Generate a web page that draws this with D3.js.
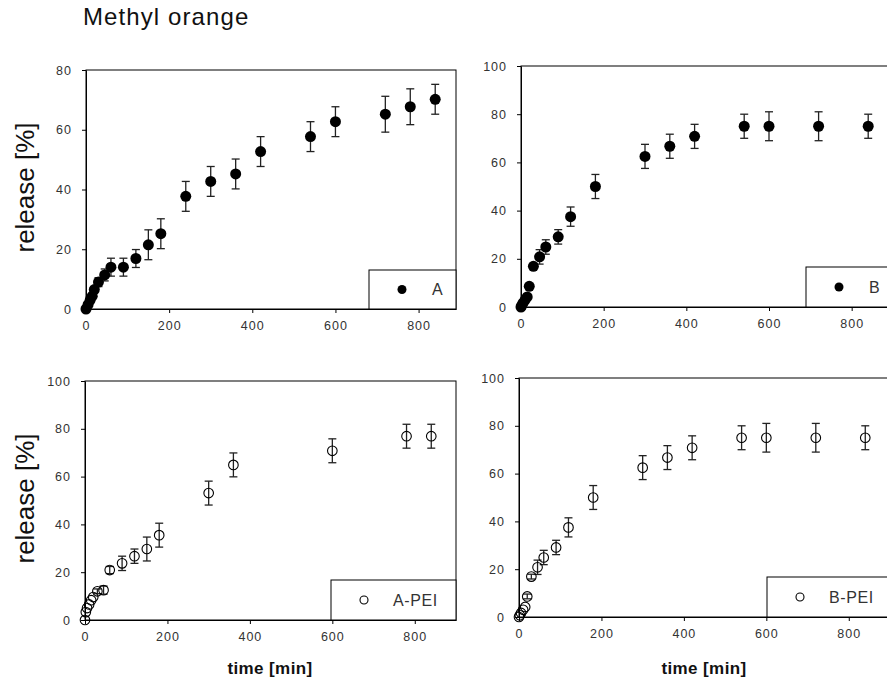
<!DOCTYPE html>
<html lang="en">
<head>
<meta charset="UTF-8">
<title>Methyl orange release</title>
<style>
  body { margin: 0; background: #fff; }
  svg text { font-family: "Liberation Sans", Arial, sans-serif; }
</style>
</head>
<body>
<div id="chart"></div>
<script src="https://d3js.org/d3.v7.min.js"></script>
<script>
// time points [min], release [%] and error (+/-)
var timeA    = [0, 5, 10, 15, 20, 30, 45, 60, 90, 120, 150, 180, 240, 300, 360, 420, 540, 600, 720, 780, 840];
var releaseA = [0, 1.5, 3, 4.3, 6.5, 9, 11.4, 14, 14, 16.9, 21.5, 25.2, 37.7, 42.7, 45.2, 52.7, 57.7, 62.7, 65.2, 67.7, 70.2];
var errA     = [0, 0.5, 0.5, 0.8, 1, 1.5, 2, 3, 3, 3, 5, 5, 5, 5, 5, 5, 5, 5, 6, 6, 5];

var timeB    = [0, 2, 5, 10, 15, 20, 30, 45, 60, 90, 120, 180, 300, 360, 420, 540, 600, 720, 840];
var releaseB = [0, 0.7, 1.7, 3, 4.2, 8.6, 16.9, 20.8, 24.9, 29.1, 37.5, 50, 62.5, 66.7, 70.8, 75, 75, 75, 75];
var errB     = [0, 0.5, 0.5, 0.5, 0.5, 1, 1, 3, 3, 3, 4, 5, 5, 5, 5, 5, 6, 6, 5];

var timeAPEI    = [0, 2, 5, 10, 15, 20, 30, 45, 60, 90, 120, 150, 180, 300, 360, 600, 780, 840];
var releaseAPEI = [0, 3.3, 5, 6.5, 8.3, 9.6, 12, 12.5, 20.9, 23.7, 26.7, 29.7, 35.5, 53.1, 64.9, 70.8, 76.9, 76.9];
var errAPEI     = [0, 0.5, 0.5, 0.5, 0.5, 0.8, 1, 1.7, 1.5, 3, 3, 5, 5, 5, 5, 5, 5, 5];

var timeBPEI    = [0, 2, 5, 10, 15, 20, 30, 45, 60, 90, 120, 180, 300, 360, 420, 540, 600, 720, 840];
var releaseBPEI = [0, 0.7, 1.7, 3, 4.2, 8.6, 16.9, 20.8, 24.9, 29.1, 37.5, 50, 62.5, 66.7, 70.8, 75, 75, 75, 75];
var errBPEI     = [0, 0.5, 0.5, 0.5, 0.5, 1, 1, 3, 3, 3, 4, 5, 5, 5, 5, 5, 6, 6, 5];

var xTicks = [0, 200, 400, 600, 800];
var yTicks80 = [0, 20, 40, 60, 80];
var yTicks100 = [0, 20, 40, 60, 80, 100];

var W = 887, H = 682;
var svg = d3.select("#chart").append("svg")
    .attr("width", W).attr("height", H);

// title
svg.append("text")
    .attr("x", 83).attr("y", 25)
    .style("font-size", "24px")
    .style("letter-spacing", "1.1px")
    .attr("fill", "#111")
    .text("Methyl orange");

var panels = [
  { left: 86, top: 70, w: 370, h: 239, xMax: 890, yMax: 80, yTicks: yTicks80,
    t: timeA, v: releaseA, e: errA, filled: true, name: "A",
    leg: { x: 369, y: 270, w: 87, h: 39 }, yLabel: true, xLabel: false },
  { left: 521, top: 66, w: 372, h: 241, xMax: 900, yMax: 100, yTicks: yTicks100,
    t: timeB, v: releaseB, e: errB, filled: true, name: "B",
    leg: { x: 806, y: 267, w: 90, h: 40 }, yLabel: false, xLabel: false },
  { left: 85, top: 381, w: 371, h: 239, xMax: 900, yMax: 100, yTicks: yTicks100,
    t: timeAPEI, v: releaseAPEI, e: errAPEI, filled: false, name: "A-PEI",
    leg: { x: 331, y: 580, w: 125, h: 40 }, yLabel: true, xLabel: true },
  { left: 519, top: 378, w: 371, h: 239, xMax: 900, yMax: 100, yTicks: yTicks100,
    t: timeBPEI, v: releaseBPEI, e: errBPEI, filled: false, name: "B-PEI",
    leg: { x: 767, y: 577, w: 130, h: 40 }, yLabel: false, xLabel: true }
];

panels.forEach(function (p) {
  var g = svg.append("g").attr("transform", "translate(" + p.left + "," + p.top + ")");

  var x = d3.scaleLinear().domain([0, p.xMax]).range([0, p.w]);
  var y = d3.scaleLinear().domain([0, p.yMax]).range([p.h, 0]);

  // frame
  g.append("rect")
      .attr("width", p.w).attr("height", p.h)
      .attr("fill", "none").attr("stroke", "#000").attr("stroke-width", 1);

  // axes
  var xa = g.append("g")
      .attr("transform", "translate(0," + p.h + ")")
      .call(d3.axisBottom(x).tickValues(xTicks).tickSize(4).tickPadding(8).tickSizeOuter(0));
  var ya = g.append("g")
      .call(d3.axisLeft(y).tickValues(p.yTicks).tickSize(4).tickPadding(10).tickSizeOuter(0));
  [xa, ya].forEach(function (a) {
    a.select(".domain").attr("stroke", "#000");
    a.selectAll(".tick line").attr("stroke", "#000");
    a.selectAll(".tick text")
        .attr("fill", "#333")
        .style("font-size", "12.5px")
        .style("letter-spacing", "1px")
        .style("font-family", "'Liberation Sans', Arial, sans-serif");
  });

  var rows = p.t.map(function (t, i) { return { t: t, v: p.v[i], e: p.e[i] }; });

  // error bars
  var eb = g.append("g").attr("stroke", "#222").attr("stroke-width", 1.3);
  rows.filter(function (d) { return d.e >= 1; }).forEach(function (d) {
    var cx = x(d.t);
    eb.append("line").attr("x1", cx).attr("x2", cx).attr("y1", y(d.v - d.e)).attr("y2", y(d.v + d.e));
    eb.append("line").attr("x1", cx - 4).attr("x2", cx + 4).attr("y1", y(d.v + d.e)).attr("y2", y(d.v + d.e));
    eb.append("line").attr("x1", cx - 4).attr("x2", cx + 4).attr("y1", y(d.v - d.e)).attr("y2", y(d.v - d.e));
  });

  // markers
  g.append("g").selectAll("circle")
    .data(rows)
    .enter()
    .append("circle")
      .attr("cx", function (d) { return x(d.t); })
      .attr("cy", function (d) { return y(d.v); })
      .attr("r", p.filled ? 5.5 : 4.8)
      .attr("fill", p.filled ? "#000" : "none")
      .attr("stroke", "#000")
      .attr("stroke-width", p.filled ? 0 : 1.1);

  // legend
  svg.append("rect")
      .attr("x", p.leg.x).attr("y", p.leg.y)
      .attr("width", p.leg.w).attr("height", p.leg.h)
      .attr("fill", "#fff").attr("stroke", "#000").attr("stroke-width", 1);
  svg.append("circle")
      .attr("cx", p.leg.x + 33).attr("cy", p.leg.y + p.leg.h / 2)
      .attr("r", p.filled ? 4.5 : 4)
      .attr("fill", p.filled ? "#000" : "none")
      .attr("stroke", "#000").attr("stroke-width", p.filled ? 0 : 1.1);
  svg.append("text")
      .attr("x", p.leg.x + (p.filled ? 63 : 62)).attr("y", p.leg.y + p.leg.h / 2)
      .attr("dy", "0.36em")
      .attr("fill", "#333")
      .style("font-size", "16px")
      .style("letter-spacing", "0.6px")
      .text(p.name);

  if (p.yLabel) {
    svg.append("text")
        .attr("transform", "translate(34," + (p.top + p.h / 2 - 2) + ") rotate(-90)")
        .attr("text-anchor", "middle")
        .attr("fill", "#111")
        .style("font-size", "26px")
        .text("release [%]");
  }
  if (p.xLabel) {
    svg.append("text")
        .attr("x", p.left + 185).attr("y", 674)
        .attr("text-anchor", "middle")
        .attr("fill", "#111")
        .style("font-size", "17px")
        .style("font-weight", "bold")
        .style("letter-spacing", "0.4px")
        .text("time [min]");
  }
});
</script>
</body>
</html>
